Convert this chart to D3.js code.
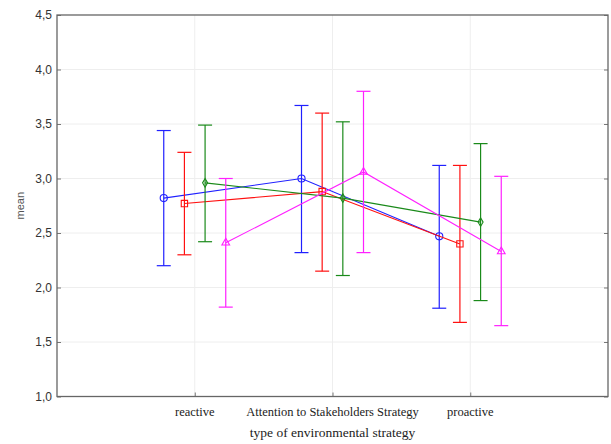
<!DOCTYPE html>
<html>
<head>
<meta charset="utf-8">
<script src="https://cdn.jsdelivr.net/npm/d3@7"></script>
<style>
  body { margin: 0; background: #fff; }
  svg { display: block; }
  .tick-label { font-family: "Liberation Sans", Arial, sans-serif; font-size: 12px; fill: #333; }
  .cat-label { font-family: "Liberation Serif", "Times New Roman", serif; font-size: 12.5px; fill: #222; }
</style>
</head>
<body>
<svg id="chart" width="611" height="444"></svg>
<script>
// categories on the x axis
var categories = ["reactive", "Attention to Stakeholders Strategy", "proactive"];
var yTicks = [1.0, 1.5, 2.0, 2.5, 3.0, 3.5, 4.0, 4.5];

// four groups, values: mean, lower and upper end of the bar
var seriesNames = ["blue", "red", "green", "magenta"];
var blueMean = [2.82, 3.00, 2.47];
var blueLow = [2.20, 2.32, 1.81];
var blueHigh = [3.44, 3.67, 3.12];
var redMean = [2.77, 2.88, 2.40];
var redLow = [2.30, 2.15, 1.68];
var redHigh = [3.24, 3.60, 3.12];
var greenMean = [2.96, 2.82, 2.60];
var greenLow = [2.42, 2.11, 1.88];
var greenHigh = [3.49, 3.52, 3.32];
var magentaMean = [2.41, 3.06, 2.33];
var magentaLow = [1.82, 2.32, 1.65];
var magentaHigh = [3.00, 3.80, 3.02];

var series = [
    { name: "blue", color: "#2020ff", mean: blueMean, low: blueLow, high: blueHigh, symbol: d3.symbolCircle, size: 40 },
    { name: "red", color: "#ff1010", mean: redMean, low: redLow, high: redHigh, symbol: d3.symbolSquare, size: 40 },
    { name: "green", color: "#1a8a1a", mean: greenMean, low: greenLow, high: greenHigh, symbol: d3.symbolDiamond, size: 22 },
    { name: "magenta", color: "#ff20ff", mean: magentaMean, low: magentaLow, high: magentaHigh, symbol: d3.symbolTriangle, size: 26 }
];

var svg = d3.select("#chart");
var plotLeft = 57, plotRight = 608, plotTop = 15, plotBottom = 396.5;

var x = d3.scaleLinear().domain([0, categories.length + 1]).range([plotLeft, plotRight]);
var y = d3.scaleLinear().domain([1, 4.5]).range([plotBottom, plotTop]);
// offset of each group around the category position
var offset = d3.scalePoint().domain(seriesNames).range([-31, 31]);

// grid
svg.append("g").selectAll("line")
    .data(yTicks.slice(1, -1))
    .enter().append("line")
    .attr("x1", plotLeft).attr("x2", plotRight)
    .attr("y1", d => y(d)).attr("y2", d => y(d))
    .attr("stroke", "#eeeeee").attr("stroke-width", 1);

svg.append("g").selectAll("line")
    .data(categories)
    .enter().append("line")
    .attr("x1", (d, i) => x(i + 1)).attr("x2", (d, i) => x(i + 1))
    .attr("y1", plotTop).attr("y2", plotBottom)
    .attr("stroke", "#eeeeee").attr("stroke-width", 1);

// axes with inward ticks
var yAxisL = d3.axisRight(y).tickValues(yTicks).tickSize(4).tickFormat("");
var yAxisR = d3.axisLeft(y).tickValues(yTicks).tickSize(4).tickFormat("");
var xAxis = d3.axisTop(x).tickValues(d3.range(1, categories.length + 1)).tickSize(4).tickFormat("");

svg.append("g").attr("transform", "translate(" + plotLeft + ",0)").call(yAxisL);
svg.append("g").attr("transform", "translate(" + plotRight + ",0)").call(yAxisR);
svg.append("g").attr("transform", "translate(0," + plotBottom + ")").call(xAxis);
svg.selectAll(".domain").remove();
svg.selectAll(".tick line").attr("stroke", "#777");

// frame
svg.append("rect")
    .attr("x", plotLeft).attr("y", plotTop)
    .attr("width", plotRight - plotLeft).attr("height", plotBottom - plotTop)
    .attr("fill", "none").attr("stroke", "#666").attr("stroke-width", 1.3);

// y tick labels
svg.append("g").selectAll("text")
    .data(yTicks)
    .enter().append("text")
    .attr("class", "tick-label")
    .attr("x", plotLeft - 5)
    .attr("y", d => y(d))
    .attr("dy", "0.35em")
    .attr("text-anchor", "end")
    .text(d => d3.format(".1f")(d).replace(".", ","));

// category labels
svg.append("g").selectAll("text")
    .data(categories)
    .enter().append("text")
    .attr("class", "cat-label")
    .attr("x", (d, i) => x(i + 1))
    .attr("y", 416)
    .attr("text-anchor", "middle")
    .text(d => d);

svg.append("text")
    .attr("x", x(2)).attr("y", 437)
    .attr("text-anchor", "middle")
    .style("font-family", "'Liberation Serif', 'Times New Roman', serif")
    .style("font-size", "13.5px").style("fill", "#222")
    .text("type of environmental strategy");

svg.append("text")
    .attr("transform", "translate(24," + y(2.75) + ") rotate(-90)")
    .attr("text-anchor", "middle")
    .style("font-family", "'Liberation Sans', Arial, sans-serif")
    .style("font-size", "11px").style("fill", "#555")
    .text("mean");

// series
var capHalf = 7;
series.forEach(function (s) {
    var g = svg.append("g").attr("class", "series-" + s.name);
    var px = (d, i) => x(i + 1) + offset(s.name);

    g.selectAll("line.bar")
        .data(s.mean)
        .enter().append("line")
        .attr("class", "bar")
        .attr("x1", px).attr("x2", px)
        .attr("y1", (d, i) => y(s.low[i])).attr("y2", (d, i) => y(s.high[i]))
        .attr("stroke", s.color).attr("stroke-width", 1.2);

    ["low", "high"].forEach(function (k) {
        g.selectAll("line.cap-" + k)
            .data(s[k])
            .enter().append("line")
            .attr("class", "cap-" + k)
            .attr("x1", (d, i) => px(d, i) - capHalf).attr("x2", (d, i) => px(d, i) + capHalf)
            .attr("y1", d => y(d)).attr("y2", d => y(d))
            .attr("stroke", s.color).attr("stroke-width", 1.2);
    });

    var line = d3.line().x(px).y(d => y(d));
    g.append("path")
        .datum(s.mean)
        .attr("d", line)
        .attr("fill", "none").attr("stroke", s.color).attr("stroke-width", 1.1);

    g.selectAll("path.marker")
        .data(s.mean)
        .enter().append("path")
        .attr("class", "marker")
        .attr("transform", (d, i) => "translate(" + px(d, i) + "," + y(d) + ")")
        .attr("d", d3.symbol().type(s.symbol).size(s.size))
        .attr("fill", "none")
        .attr("stroke", s.color).attr("stroke-width", 1.1);
});
</script>
</body>
</html>
